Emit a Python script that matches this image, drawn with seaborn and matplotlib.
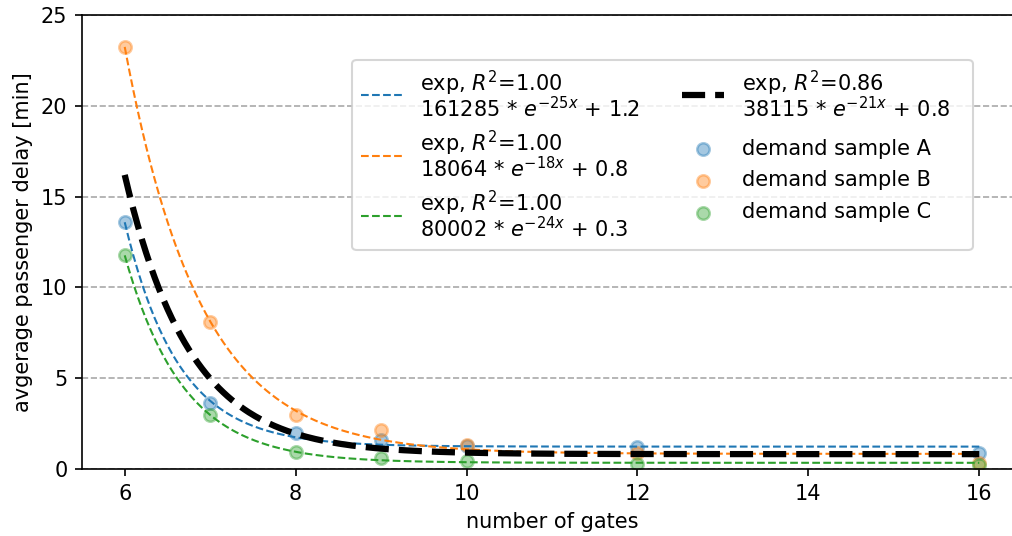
import numpy as np
import matplotlib
matplotlib.use("Agg")
import matplotlib.pyplot as plt
import seaborn as sns
from matplotlib.offsetbox import VPacker, DrawingArea

# ---- data ----
gates = np.array([6, 7, 8, 9, 10, 12, 16], dtype=float)
delay_A = np.array([13.6, 3.64, 1.99, 1.59, 1.30, 1.21, 0.90])
delay_B = np.array([23.25, 8.08, 3.00, 2.16, 1.34, 0.88, 0.33])
delay_C = np.array([11.77, 2.96, 0.97, 0.64, 0.45, 0.29, 0.24])

sample_names = ["demand sample A", "demand sample B", "demand sample C"]
fit_labels = [
    "exp, $R^2$=1.00\n161285 * $e^{-25x}$ + 1.2",
    "exp, $R^2$=1.00\n18064 * $e^{-18x}$ + 0.8",
    "exp, $R^2$=1.00\n80002 * $e^{-24x}$ + 0.3",
]
fit_all_label = "exp, $R^2$=0.86\n38115 * $e^{-21x}$ + 0.8   "
colors = ["#1f77b4", "#ff7f0e", "#2ca02c"]


def fit_exp(x, y):
    """least squares fit of a*exp(-b*x)+c (grid over b, linear in a, c)"""
    best = None
    for b in np.linspace(0.05, 5.0, 4000):
        A = np.column_stack([np.exp(-b * x), np.ones_like(x)])
        coef, *_ = np.linalg.lstsq(A, y, rcond=None)
        sse = float(((A @ coef - y) ** 2).sum())
        if best is None or sse < best[0]:
            best = (sse, coef[0], b, coef[1])
    return best[1], best[2], best[3]


fig = plt.figure(figsize=(1012 / 150, 536 / 150), dpi=150)
ax = fig.add_axes([82 / 1012, (536 - 469.3) / 536, 940 / 1012, 454.6 / 536])

xx = np.linspace(6, 16, 400)
series = [delay_A, delay_B, delay_C]

line_handles = []
for y, col, lab in zip(series, colors, fit_labels):
    a, b, c = fit_exp(gates, y)
    sns.lineplot(x=xx, y=a * np.exp(-b * xx) + c, ax=ax, color=col,
                 linestyle="--", linewidth=1.0, label=lab, legend=False)
    line_handles.append(ax.lines[-1])

xall = np.concatenate([gates] * 3)
yall = np.concatenate(series)
a, b, c = fit_exp(xall, yall)
sns.lineplot(x=xx, y=a * np.exp(-b * xx) + c, ax=ax, color="black",
             linestyle="--", linewidth=3.0, label=fit_all_label, legend=False,
             zorder=3)
black_handle = ax.lines[-1]

scatter_handles = []
for y, col, name in zip(series, colors, sample_names):
    sns.scatterplot(x=gates, y=y, ax=ax, color=col, alpha=0.4, s=36,
                    edgecolor=col, linewidth=1.2, label=name, legend=False)
    scatter_handles.append(ax.collections[-1])

ax.set_xlim(5.5, 16.5)
ax.set_ylim(0, 25)
ax.set_xticks([6, 8, 10, 12, 14, 16])
ax.set_yticks([0, 5, 10, 15, 20, 25])
ax.yaxis.grid(True, linestyle="--", color="darkgray", linewidth=0.8)
ax.set_axisbelow(True)
ax.set_xlabel("number of gates")
ax.set_ylabel("avgerage passenger delay [min]")

handles = line_handles + [black_handle] + scatter_handles
labels = fit_labels + [fit_all_label] + sample_names
leg = ax.legend(handles, labels, ncol=2, loc="upper right",
                bbox_to_anchor=(0.9475, 0.9004), borderaxespad=0,
                handletextpad=0.86)
for t in leg.get_texts():
    if "\n" in t.get_text():
        t.set_linespacing(0.91)
# move the overall-fit entry to the top of the second column
cols = leg._legend_handle_box.get_children()
item = cols[0].get_children().pop()
spacer = DrawingArea(0, 3.0)
cols[1].get_children().insert(0, VPacker(pad=0, sep=0, align="left",
                                         children=[item, spacer]))
cols[0].sep = 3.8
cols[1].sep = 5.6

fig.savefig("out.png", dpi=150)
